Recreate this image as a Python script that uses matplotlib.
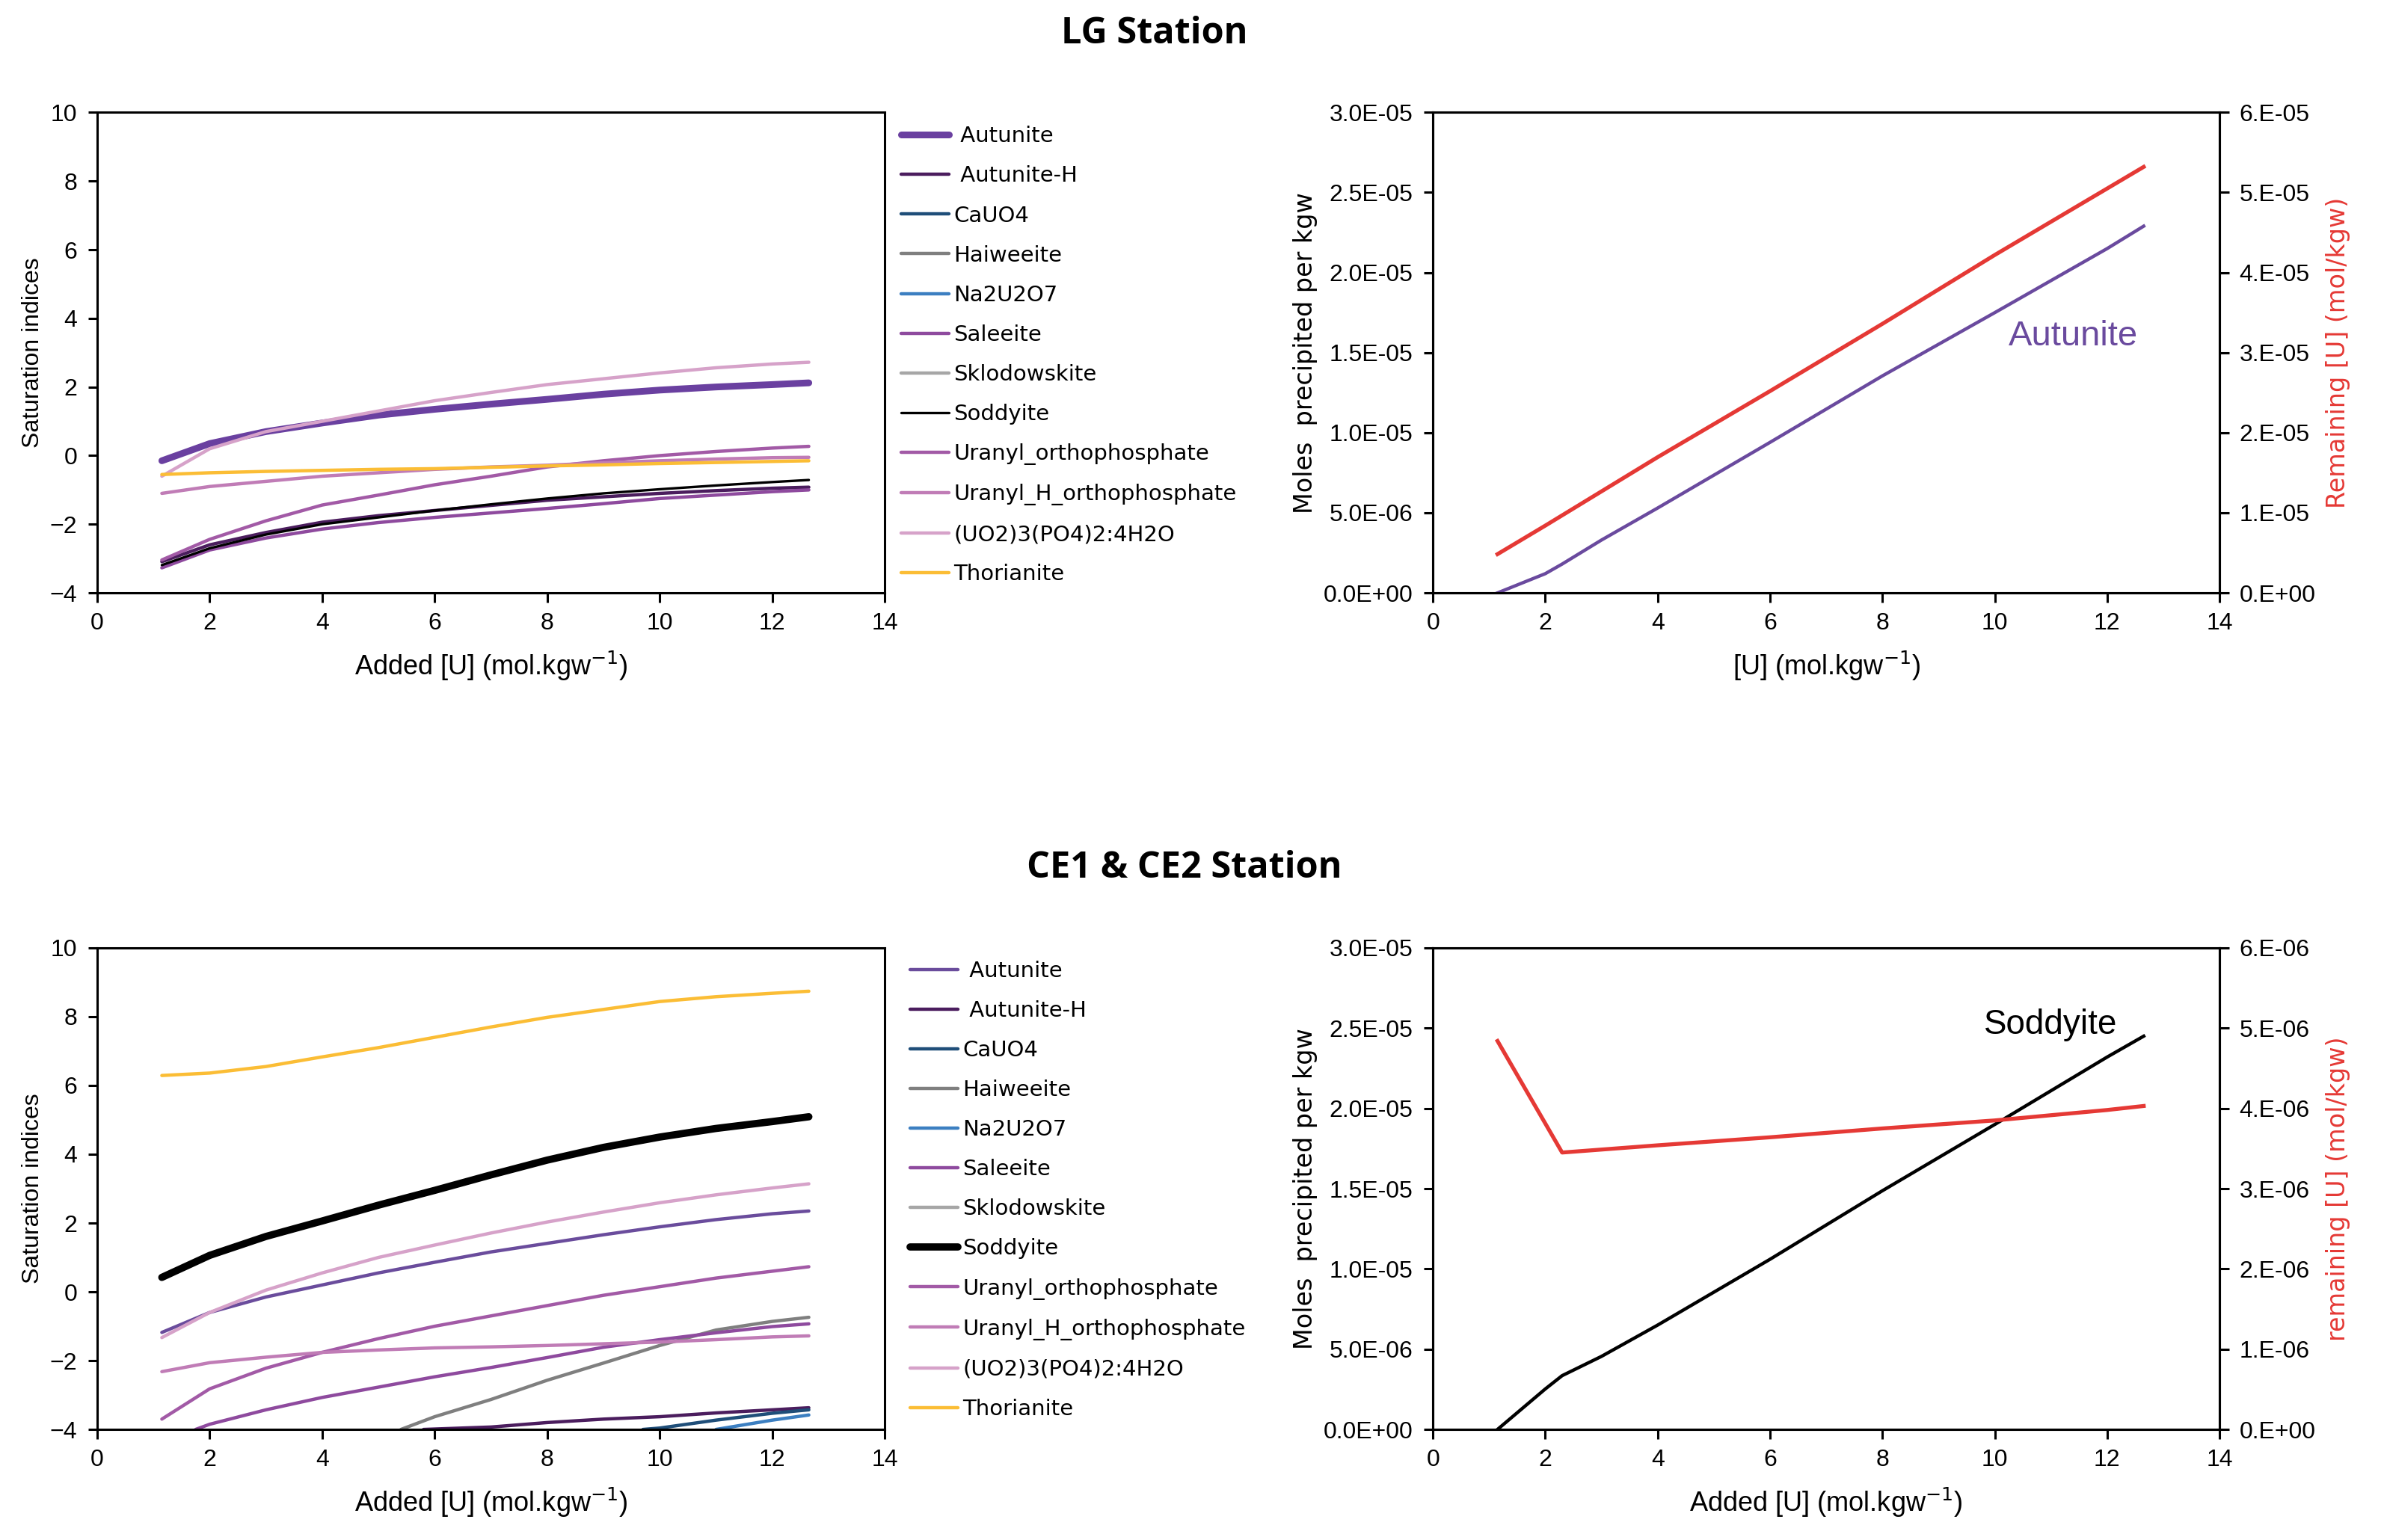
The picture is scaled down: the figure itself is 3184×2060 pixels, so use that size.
import matplotlib
matplotlib.use("Agg")
import matplotlib.pyplot as plt

# ---- data ----
minerals = [" Autunite", " Autunite-H", "CaUO4", "Haiweeite", "Na2U2O7", "Saleeite",
            "Sklodowskite", "Soddyite", "Uranyl_orthophosphate",
            "Uranyl_H_orthophosphate", "(UO2)3(PO4)2:4H2O", "Thorianite"]
colors = ["#6a40a0", "#4b1d5e", "#1f4e79", "#7f7f7f", "#3c7fc1", "#8e4a9e",
          "#a6a6a6", "#000000", "#a25aa6", "#c07cb6", "#d6a2c9", "#fbbd35"]

x_si = [1.15, 2, 3, 4, 5, 6, 7, 8, 9, 10, 11, 12, 12.65]

# LG station saturation indices
lg_autunite = [-0.15, 0.35, 0.7, 0.95, 1.18, 1.35, 1.5, 1.64, 1.79, 1.91, 2.0, 2.07, 2.12]
lg_autunite_h = [-3.09, -2.6, -2.24, -1.94, -1.75, -1.6, -1.45, -1.3, -1.2, -1.1, -1.02, -0.95, -0.92]
lg_saleeite = [-3.27, -2.75, -2.4, -2.14, -1.95, -1.8, -1.67, -1.54, -1.4, -1.25, -1.15, -1.05, -1.0]
lg_soddyite = [-3.19, -2.7, -2.3, -2.0, -1.8, -1.6, -1.42, -1.25, -1.1, -0.98, -0.87, -0.77, -0.71]
lg_uranyl = [-3.04, -2.44, -1.9, -1.44, -1.15, -0.85, -0.6, -0.33, -0.15, 0.0, 0.12, 0.22, 0.27]
lg_uranyl_h = [-1.1, -0.9, -0.75, -0.6, -0.5, -0.4, -0.33, -0.28, -0.21, -0.15, -0.1, -0.06, -0.05]
lg_uo2po4 = [-0.6, 0.2, 0.7, 1.0, 1.3, 1.6, 1.84, 2.07, 2.24, 2.41, 2.56, 2.67, 2.72]
lg_thorianite = [-0.55, -0.5, -0.46, -0.43, -0.4, -0.38, -0.34, -0.3, -0.27, -0.23, -0.2, -0.17, -0.15]

# CE1 & CE2 station saturation indices
ce_autunite = [-1.18, -0.6, -0.15, 0.2, 0.55, 0.86, 1.16, 1.41, 1.66, 1.89, 2.1, 2.27, 2.35]
ce_autunite_h_x = [5.8, 7, 8, 9, 10, 11, 12, 12.65]
ce_autunite_h = [-4.0, -3.93, -3.8, -3.7, -3.63, -3.52, -3.43, -3.37]
ce_cauo4_x = [9.7, 10, 11, 12, 12.65]
ce_cauo4 = [-4.0, -3.96, -3.73, -3.53, -3.43]
ce_haiweeite_x = [5.4, 6, 7, 8, 9, 10, 11, 12, 12.65]
ce_haiweeite = [-4.0, -3.63, -3.13, -2.57, -2.07, -1.56, -1.11, -0.86, -0.74]
ce_na2u2o7_x = [11.0, 12, 12.65]
ce_na2u2o7 = [-4.0, -3.73, -3.58]
ce_saleeite_x = [1.75, 2, 3, 4, 5, 6, 7, 8, 9, 10, 11, 12, 12.65]
ce_saleeite = [-4.0, -3.85, -3.43, -3.07, -2.77, -2.47, -2.2, -1.91, -1.61, -1.39, -1.19, -1.01, -0.93]
ce_soddyite = [0.42, 1.06, 1.61, 2.06, 2.52, 2.95, 3.4, 3.83, 4.2, 4.5, 4.75, 4.95, 5.09]
ce_uranyl = [-3.7, -2.82, -2.22, -1.76, -1.36, -1.0, -0.7, -0.4, -0.1, 0.15, 0.4, 0.6, 0.73]
ce_uranyl_h = [-2.32, -2.06, -1.9, -1.76, -1.69, -1.63, -1.6, -1.56, -1.51, -1.46, -1.39, -1.31, -1.28]
ce_uo2po4 = [-1.33, -0.6, 0.05, 0.55, 1.0, 1.36, 1.71, 2.03, 2.32, 2.59, 2.82, 3.02, 3.14]
ce_thorianite = [6.29, 6.36, 6.55, 6.83, 7.1, 7.4, 7.7, 7.98, 8.21, 8.44, 8.58, 8.68, 8.74]

# precipitated / remaining
x_ppt = [1.15, 2, 2.3, 3, 4, 6, 8, 10, 12, 12.65]
lg_ppt = [0, 1.2e-6, 1.8e-6, 3.3e-6, 5.3e-6, 9.4e-6, 1.355e-5, 1.75e-5, 2.15e-5, 2.29e-5]
lg_rem_x = [1.15, 2, 4, 6, 8, 10, 12, 12.65]
lg_rem = [4.84e-6, 8.4e-6, 1.695e-5, 2.52e-5, 3.36e-5, 4.22e-5, 5.05e-5, 5.32e-5]
ce_ppt = [0, 2.52e-6, 3.35e-6, 4.55e-6, 6.5e-6, 1.06e-5, 1.487e-5, 1.9e-5, 2.32e-5, 2.45e-5]
ce_rem_x = [1.15, 2.3, 4, 6, 8, 10, 12, 12.65]
ce_rem = [4.84e-6, 3.45e-6, 3.54e-6, 3.64e-6, 3.75e-6, 3.85e-6, 3.98e-6, 4.03e-6]

ppt_ticks = [0, 5e-6, 1e-5, 1.5e-5, 2e-5, 2.5e-5, 3e-5]
ppt_labels = ["0.0E+00", "5.0E-06", "1.0E-05", "1.5E-05", "2.0E-05", "2.5E-05", "3.0E-05"]
lg_rem_ticks = [0, 1e-5, 2e-5, 3e-5, 4e-5, 5e-5, 6e-5]
lg_rem_labels = ["0.E+00", "1.E-05", "2.E-05", "3.E-05", "4.E-05", "5.E-05", "6.E-05"]
ce_rem_ticks = [0, 1e-6, 2e-6, 3e-6, 4e-6, 5e-6, 6e-6]
ce_rem_labels = ["0.E+00", "1.E-06", "2.E-06", "3.E-06", "4.E-06", "5.E-06", "6.E-06"]

NARROW = ["Liberation Sans", "DejaVu Sans"]
WIDE = ["DejaVu Sans"]
RED = "#e53935"

fig = plt.figure(figsize=(31.84, 20.60), dpi=100)


def narrow(t):
    t.set_family(NARROW)
    t.set_fontstretch("condensed")


def style_axes(ax):
    for s in ax.spines.values():
        s.set_linewidth(2.2)
    ax.tick_params(direction="out", length=9, width=2.2, pad=10, labelsize=23)
    for lab in ax.get_xticklabels() + ax.get_yticklabels():
        narrow(lab)


def si_panel(rect, series, legend_xy):
    ax = fig.add_axes(rect)
    handles = []
    for name, col, xs, ys, lw in series:
        ln, = ax.plot(xs, ys, color=col, lw=lw, solid_capstyle="round", label=name)
        handles.append(ln)
    ax.set_xlim(0, 14)
    ax.set_ylim(-4, 10)
    ax.set_xticks(range(0, 15, 2))
    ax.set_yticks(range(-4, 11, 2))
    style_axes(ax)
    narrow(ax.set_xlabel("Added [U] (mol.kgw$^{-1}$)", fontsize=26, labelpad=14))
    narrow(ax.set_ylabel("Saturation indices", fontsize=23, labelpad=6))
    fig.legend(handles=handles, loc="upper left", bbox_to_anchor=legend_xy,
               frameon=False, prop={"family": WIDE, "size": 21},
               handlelength=2.2, handletextpad=0.2, labelspacing=0.86)
    return ax


def ppt_panel(rect, ppt, ppt_col, rem_x, rem, rem_ticks, rem_labels, xlabel, rlabel,
              note, note_xy, note_size):
    ax = fig.add_axes(rect)
    ax.plot(x_ppt, ppt, color=ppt_col, lw=3.2)
    ax.set_xlim(0, 14)
    ax.set_ylim(0, 3e-5)
    ax.set_xticks(range(0, 15, 2))
    ax.set_yticks(ppt_ticks)
    ax.set_yticklabels(ppt_labels)
    style_axes(ax)
    narrow(ax.set_xlabel(xlabel, fontsize=26, labelpad=14))
    ax.set_ylabel("Moles  precipited per kgw", family=WIDE, fontsize=24, labelpad=6)
    narrow(ax.text(note_xy[0], note_xy[1], note, color=ppt_col, fontsize=note_size,
                   va="center"))
    ax2 = ax.twinx()
    ax2.plot(rem_x, rem, color=RED, lw=3.8)
    ax2.set_ylim(0, rem_ticks[-1])
    ax2.set_yticks(rem_ticks)
    ax2.set_yticklabels(rem_labels)
    style_axes(ax2)
    ax2.set_ylabel(rlabel, family=WIDE, fontsize=24, color=RED, labelpad=10)
    return ax


# LG station
lg_series = [
    (minerals[0], colors[0], x_si, lg_autunite, 6.5),
    (minerals[1], colors[1], x_si, lg_autunite_h, 3.2),
    (minerals[2], colors[2], [], [], 3.2),
    (minerals[3], colors[3], [], [], 3.2),
    (minerals[4], colors[4], [], [], 3.2),
    (minerals[5], colors[5], x_si, lg_saleeite, 3.2),
    (minerals[6], colors[6], [], [], 3.2),
    (minerals[7], colors[7], x_si, lg_soddyite, 2.4),
    (minerals[8], colors[8], x_si, lg_uranyl, 3.2),
    (minerals[9], colors[9], x_si, lg_uranyl_h, 3.2),
    (minerals[10], colors[10], x_si, lg_uo2po4, 3.2),
    (minerals[11], colors[11], x_si, lg_thorianite, 3.2),
]
si_panel([0.0408, 0.615, 0.3308, 0.312], lg_series, (0.3703, 0.931))
ppt_panel([0.6018, 0.615, 0.3304, 0.312], lg_ppt, "#6a4a9e", lg_rem_x, lg_rem,
          lg_rem_ticks, lg_rem_labels, "[U] (mol.kgw$^{-1}$)",
          "Remaining [U] (mol/kgw)", "Autunite", (10.25, 1.6e-5), 34)

# CE1 & CE2 station
ce_series = [
    (minerals[0], "#6a4c9c", x_si, ce_autunite, 3.2),
    (minerals[1], colors[1], ce_autunite_h_x, ce_autunite_h, 3.2),
    (minerals[2], colors[2], ce_cauo4_x, ce_cauo4, 3.2),
    (minerals[3], colors[3], ce_haiweeite_x, ce_haiweeite, 3.2),
    (minerals[4], colors[4], ce_na2u2o7_x, ce_na2u2o7, 3.2),
    (minerals[5], colors[5], ce_saleeite_x, ce_saleeite, 3.2),
    (minerals[6], colors[6], [], [], 3.2),
    (minerals[7], colors[7], x_si, ce_soddyite, 7.0),
    (minerals[8], colors[8], x_si, ce_uranyl, 3.2),
    (minerals[9], colors[9], x_si, ce_uranyl_h, 3.2),
    (minerals[10], colors[10], x_si, ce_uo2po4, 3.2),
    (minerals[11], colors[11], x_si, ce_thorianite, 3.2),
]
si_panel([0.0408, 0.0718, 0.3308, 0.3127], ce_series, (0.374, 0.389))
ppt_panel([0.6018, 0.0718, 0.3304, 0.3127], ce_ppt, "#000000", ce_rem_x, ce_rem,
          ce_rem_ticks, ce_rem_labels, "Added [U] (mol.kgw$^{-1}$)",
          "remaining [U] (mol/kgw)", "Soddyite", (9.8, 2.52e-5), 33)

fig.text(0.4847, 0.978, "LG Station", ha="center", va="center",
         family=["Open Sans", "DejaVu Sans"], fontweight="bold", fontsize=35)
fig.text(0.4975, 0.436, "CE1 & CE2 Station", ha="center", va="center",
         family=["Open Sans", "DejaVu Sans"], fontweight="bold", fontsize=35)

fig.savefig("out.png", dpi=100)
